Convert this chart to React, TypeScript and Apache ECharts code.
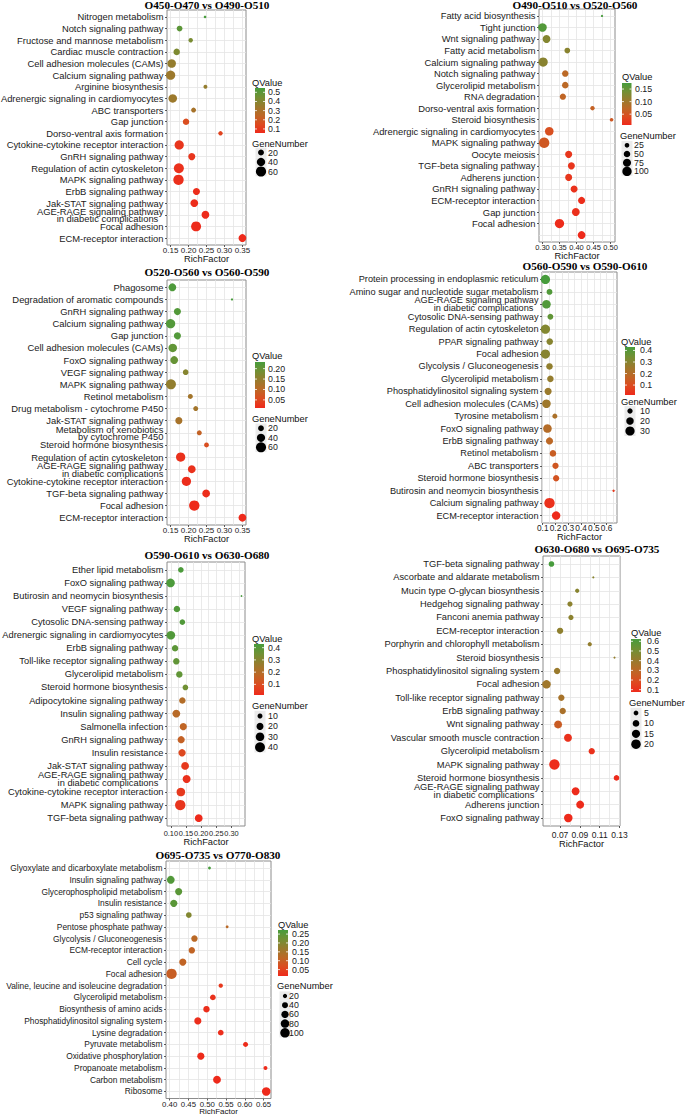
import React, { useEffect, useRef } from "react";
import * as echarts from "echarts";

// ---------------- Panel 1 ----------------
const p1Title = "O450-O470 vs O490-O510";
const p1Categories = [
  "Nitrogen metabolism",
  "Notch signaling pathway",
  "Fructose and mannose metabolism",
  "Cardiac muscle contraction",
  "Cell adhesion molecules (CAMs)",
  "Calcium signaling pathway",
  "Arginine biosynthesis",
  "Adrenergic signaling in cardiomyocytes",
  "ABC transporters",
  "Gap junction",
  "Dorso-ventral axis formation",
  "Cytokine-cytokine receptor interaction",
  "GnRH signaling pathway",
  "Regulation of actin cytoskeleton",
  "MAPK signaling pathway",
  "ErbB signaling pathway",
  "Jak-STAT signaling pathway",
  "AGE-RAGE signaling pathway\nin diabetic complications  ",
  "Focal adhesion",
  "ECM-receptor interaction",
];
const p1RichFactor = [0.246, 0.175, 0.206, 0.167, 0.153, 0.15, 0.247, 0.156, 0.214, 0.193, 0.289, 0.174, 0.209, 0.173, 0.172, 0.222, 0.216, 0.247, 0.221, 0.35];
const p1QValue = [0.547, 0.5, 0.43, 0.42, 0.36, 0.34, 0.36, 0.34, 0.31, 0.16, 0.13, 0.09, 0.09, 0.075, 0.07, 0.065, 0.065, 0.06, 0.06, 0.056];
const p1GeneNumber = [4, 19, 11, 24, 42, 49, 9, 42, 14, 24, 11, 49, 29, 57, 62, 29, 35, 35, 57, 35];
const p1XTickLabels = ["0.15", "0.20", "0.25", "0.30", "0.35"];
const p1QTickLabels = ["0.1", "0.2", "0.3", "0.4", "0.5"];
const p1SizeTicks = [20, 40, 60];

// ---------------- Panel 2 ----------------
const p2Title = "O490-O510 vs O520-O560";
const p2Categories = [
  "Fatty acid biosynthesis",
  "Tight junction",
  "Wnt signaling pathway",
  "Fatty acid metabolism",
  "Calcium signaling pathway",
  "Notch signaling pathway",
  "Glycerolipid metabolism",
  "RNA degradation",
  "Dorso-ventral axis formation",
  "Steroid biosynthesis",
  "Adrenergic signaling in cardiomyocytes",
  "MAPK signaling pathway",
  "Oocyte meiosis",
  "TGF-beta signaling pathway",
  "Adherens junction",
  "GnRH signaling pathway",
  "ECM-receptor interaction",
  "Gap junction",
  "Focal adhesion",
  "AGE-RAGE signaling pathway\nin diabetic complications  ",
];
const p2RichFactor = [0.475, 0.3, 0.312, 0.373, 0.302, 0.367, 0.367, 0.36, 0.447, 0.503, 0.32, 0.305, 0.377, 0.385, 0.377, 0.393, 0.415, 0.398, 0.35, 0.415];
const p2QValue = [0.174, 0.165, 0.125, 0.12, 0.12, 0.075, 0.075, 0.07, 0.065, 0.055, 0.045, 0.055, 0.02, 0.018, 0.02, 0.015, 0.01, 0.013, 0.009, 0.007];
const p2GeneNumber = [6, 85, 71, 38, 99, 48, 48, 46, 22, 15, 85, 125, 59, 57, 57, 57, 59, 71, 100, 71];
const p2XTickLabels = ["0.30", "0.35", "0.40", "0.45", "0.50"];
const p2QTickLabels = ["0.05", "0.10", "0.15"];
const p2SizeTicks = [25, 50, 75, 100];

// ---------------- Panel 3 ----------------
const p3Title = "O520-O560 vs O560-O590";
const p3Categories = [
  "Phagosome",
  "Degradation of aromatic compounds",
  "GnRH signaling pathway",
  "Calcium signaling pathway",
  "Gap junction",
  "Cell adhesion molecules (CAMs)",
  "FoxO signaling pathway",
  "VEGF signaling pathway",
  "MAPK signaling pathway",
  "Retinol metabolism",
  "Drug metabolism - cytochrome P450",
  "Jak-STAT signaling pathway",
  "Metabolism of xenobiotics\nby cytochrome P450",
  "Steroid hormone biosynthesis",
  "Regulation of actin cytoskeleton",
  "AGE-RAGE signaling pathway\nin diabetic complications",
  "Cytokine-cytokine receptor interaction",
  "TGF-beta signaling pathway",
  "Focal adhesion",
  "ECM-receptor interaction",
];
const p3RichFactor = [0.155, 0.321, 0.169, 0.15, 0.169, 0.156, 0.16, 0.192, 0.151, 0.205, 0.22, 0.173, 0.23, 0.25, 0.178, 0.209, 0.194, 0.249, 0.216, 0.35];
const p3QValue = [0.225, 0.232, 0.22, 0.22, 0.22, 0.205, 0.2, 0.165, 0.15, 0.13, 0.13, 0.125, 0.09, 0.06, 0.02, 0.02, 0.015, 0.015, 0.012, 0.011];
const p3GeneNumber = [36, 3, 30, 51, 30, 43, 36, 19, 59, 15, 15, 30, 15, 14, 51, 36, 51, 36, 64, 36];
const p3XTickLabels = ["0.15", "0.20", "0.25", "0.30", "0.35"];
const p3QTickLabels = ["0.05", "0.10", "0.15", "0.20"];
const p3SizeTicks = [20, 40, 60];

// ---------------- Panel 4 ----------------
const p4Title = "O560-O590 vs O590-O610";
const p4Categories = [
  "Protein processing in endoplasmic reticulum",
  "Amino sugar and nucleotide sugar metabolism",
  "AGE-RAGE signaling pathway\nin diabetic complications  ",
  "Cytosolic DNA-sensing pathway",
  "Regulation of actin cytoskeleton",
  "PPAR signaling pathway",
  "Focal adhesion",
  "Glycolysis / Gluconeogenesis",
  "Glycerolipid metabolism",
  "Phosphatidylinositol signaling system",
  "Cell adhesion molecules (CAMs)",
  "Tyrosine metabolism",
  "FoxO signaling pathway",
  "ErbB signaling pathway",
  "Retinol metabolism",
  "ABC transporters",
  "Steroid hormone biosynthesis",
  "Butirosin and neomycin biosynthesis",
  "Calcium signaling pathway",
  "ECM-receptor interaction",
];
const p4RichFactor = [0.121, 0.153, 0.129, 0.16, 0.121, 0.155, 0.121, 0.153, 0.16, 0.142, 0.129, 0.195, 0.137, 0.153, 0.18, 0.2, 0.205, 0.655, 0.153, 0.205];
const p4QValue = [0.43, 0.41, 0.41, 0.38, 0.31, 0.3, 0.3, 0.28, 0.27, 0.26, 0.25, 0.22, 0.2, 0.18, 0.15, 0.13, 0.12, 0.05, 0.03, 0.014];
const p4GeneNumber = [30, 12, 26, 12, 30, 15, 30, 15, 15, 18, 26, 9, 26, 18, 15, 14, 14, 2, 38, 25];
const p4XTickLabels = ["0.1", "0.2", "0.3", "0.4", "0.5", "0.6"];
const p4QTickLabels = ["0.1", "0.2", "0.3", "0.4"];
const p4SizeTicks = [10, 20, 30];

// ---------------- Panel 5 ----------------
const p5Title = "O590-O610 vs O630-O680";
const p5Categories = [
  "Ether lipid metabolism",
  "FoxO signaling pathway",
  "Butirosin and neomycin biosynthesis",
  "VEGF signaling pathway",
  "Cytosolic DNA-sensing pathway",
  "Adrenergic signaling in cardiomyocytes",
  "ErbB signaling pathway",
  "Toll-like receptor signaling pathway",
  "Glycerolipid metabolism",
  "Steroid hormone biosynthesis",
  "Adipocytokine signaling pathway",
  "Insulin signaling pathway",
  "Salmonella infection",
  "GnRH signaling pathway",
  "Insulin resistance",
  "Jak-STAT signaling pathway",
  "AGE-RAGE signaling pathway\nin diabetic complications  ",
  "Cytokine-cytokine receptor interaction",
  "MAPK signaling pathway",
  "TGF-beta signaling pathway",
];
const p5RichFactor = [0.133, 0.099, 0.333, 0.12, 0.138, 0.1, 0.114, 0.118, 0.128, 0.148, 0.138, 0.118, 0.141, 0.134, 0.137, 0.147, 0.152, 0.133, 0.131, 0.192];
const p5QValue = [0.42, 0.42, 0.43, 0.41, 0.41, 0.41, 0.39, 0.38, 0.38, 0.35, 0.2, 0.19, 0.17, 0.16, 0.09, 0.05, 0.03, 0.05, 0.04, 0.013];
const p5GeneNumber = [13, 30, 1, 17, 13, 30, 17, 17, 17, 13, 17, 25, 21, 21, 22, 25, 26, 30, 44, 25];
const p5XTickLabels = ["0.10", "0.15", "0.20", "0.25", "0.30"];
const p5QTickLabels = ["0.1", "0.2", "0.3", "0.4"];
const p5SizeTicks = [10, 20, 30, 40];

// ---------------- Panel 6 ----------------
const p6Title = "O630-O680 vs O695-O735";
const p6Categories = [
  "TGF-beta signaling pathway",
  "Ascorbate and aldarate metabolism",
  "Mucin type O-glycan biosynthesis",
  "Hedgehog signaling pathway",
  "Fanconi anemia pathway",
  "ECM-receptor interaction",
  "Porphyrin and chlorophyll metabolism",
  "Steroid biosynthesis",
  "Phosphatidylinositol signaling system",
  "Focal adhesion",
  "Toll-like receptor signaling pathway",
  "ErbB signaling pathway",
  "Wnt signaling pathway",
  "Vascular smooth muscle contraction",
  "Glycerolipid metabolism",
  "MAPK signaling pathway",
  "Steroid hormone biosynthesis",
  "AGE-RAGE signaling pathway\nin diabetic complications  ",
  "Adherens junction",
  "FoxO signaling pathway",
];
const p6RichFactor = [0.0613, 0.1036, 0.0873, 0.08, 0.081, 0.07, 0.1, 0.125, 0.067, 0.0563, 0.0713, 0.0727, 0.068, 0.078, 0.102, 0.0643, 0.127, 0.0857, 0.0903, 0.0783];
const p6QValue = [0.624, 0.45, 0.45, 0.44, 0.44, 0.43, 0.42, 0.42, 0.4, 0.38, 0.36, 0.35, 0.25, 0.1, 0.1, 0.085, 0.08, 0.08, 0.08, 0.076];
const p6GeneNumber = [7, 1, 4, 6, 6, 9, 4, 1, 9, 16, 9, 9, 14, 14, 9, 24, 7, 14, 14, 16];
const p6XTickLabels = ["0.07", "0.09", "0.11", "0.13"];
const p6QTickLabels = ["0.1", "0.2", "0.3", "0.4", "0.5", "0.6"];
const p6SizeTicks = [5, 10, 15, 20];

// ---------------- Panel 7 ----------------
const p7Title = "O695-O735 vs O770-O830";
const p7Categories = [
  "Glyoxylate and dicarboxylate metabolism",
  "Insulin signaling pathway",
  "Glycerophospholipid metabolism",
  "Insulin resistance",
  "p53 signaling pathway",
  "Pentose phosphate pathway",
  "Glycolysis / Gluconeogenesis",
  "ECM-receptor interaction",
  "Cell cycle",
  "Focal adhesion",
  "Valine, leucine and isoleucine degradation",
  "Glycerolipid metabolism",
  "Biosynthesis of amino acids",
  "Phosphatidylinositol signaling system",
  "Lysine degradation",
  "Pyruvate metabolism",
  "Oxidative phosphorylation",
  "Propanoate metabolism",
  "Carbon metabolism",
  "Ribosome",
];
const p7RichFactor = [0.506, 0.403, 0.424, 0.411, 0.451, 0.553, 0.466, 0.459, 0.435, 0.405, 0.536, 0.515, 0.498, 0.475, 0.536, 0.602, 0.483, 0.655, 0.526, 0.657];
const p7QValue = [0.273, 0.26, 0.25, 0.25, 0.2, 0.12, 0.12, 0.11, 0.11, 0.1, 0.035, 0.025, 0.022, 0.02, 0.02, 0.017, 0.016, 0.015, 0.014, 0.014];
const p7GeneNumber = [9, 68, 57, 57, 36, 9, 46, 46, 57, 120, 21, 36, 46, 57, 36, 28, 57, 17, 68, 81];
const p7XTickLabels = ["0.40", "0.45", "0.50", "0.55", "0.60", "0.65"];
const p7QTickLabels = ["0.05", "0.10", "0.15", "0.20", "0.25"];
const p7SizeTicks = [20, 40, 60, 80, 100];

// ---------------- styling / layout ----------------
const COLORS = ["#ee2a1b", "#dc4c20", "#bc6826", "#987b2d", "#729034", "#479c3c"]; // low -> high QValue
const SANS = '"Liberation Sans", Arial, Helvetica, sans-serif';
const SERIF = '"Liberation Serif", "Times New Roman", serif';
const DMAX = 10.4;

type Layout = {
  grid: [number, number, number, number];
  title: [number, number];
  yFont: number;
  yLine: number;
  xFont: number;
  xMargin: number;
  nameGap: number;
  nameFont: number;
  qTitle: [number, number];
  bar: [number, number, number, number];
  qLabelX: number;
  gTitle: [number, number];
  key: [number, number, number];
  keyLabelX: number;
};

const layouts: Layout[] = [
  { grid: [167, 10, 79, 235], title: [207, 5], yFont: 9.4, yLine: 7.4, xFont: 8, xMargin: 1, nameGap: 9.5, nameFont: 9.3, qTitle: [252, 83], bar: [255, 88, 10, 45], qLabelX: 268, gTitle: [252, 144], key: [261, 152.5, 9.5], keyLabelX: 268 },
  { grid: [539, 9, 76, 233], title: [575, 5], yFont: 9.4, yLine: 7.4, xFont: 7.5, xMargin: 1, nameGap: 9, nameFont: 9.3, qTitle: [622, 77], bar: [622, 83, 9.5, 42], qLabelX: 635, gTitle: [620, 136], key: [627, 145.3, 8.7], keyLabelX: 634 },
  { grid: [167, 280, 79, 245], title: [207, 272], yFont: 9.4, yLine: 7.6, xFont: 8, xMargin: 1, nameGap: 9.5, nameFont: 9.3, qTitle: [252, 356], bar: [255, 362, 10, 46], qLabelX: 268, gTitle: [252, 419], key: [261, 428.3, 9.5], keyLabelX: 268 },
  { grid: [542, 272, 75, 251], title: [585, 266], yFont: 9.2, yLine: 8, xFont: 8.3, xMargin: 1, nameGap: 9.5, nameFont: 9.3, qTitle: [621, 342], bar: [625, 347, 10, 48], qLabelX: 640, gTitle: [621, 402], key: [630, 411, 10], keyLabelX: 640 },
  { grid: [167, 562, 78, 264], title: [207, 555], yFont: 9.3, yLine: 8.2, xFont: 7.4, xMargin: 3.5, nameGap: 11.5, nameFont: 9.3, qTitle: [252, 639], bar: [254, 644, 10, 51], qLabelX: 268, gTitle: [252, 706], key: [260, 716, 10.4], keyLabelX: 268 },
  { grid: [543, 556, 77, 270], title: [597, 549], yFont: 9.3, yLine: 8.2, xFont: 8.5, xMargin: 4, nameGap: 13, nameFont: 9.3, qTitle: [631, 633], bar: [631, 639, 10, 53], qLabelX: 647, gTitle: [629, 703], key: [636, 713, 10.4], keyLabelX: 644 },
  { grid: [166, 861, 105, 237.5], title: [218, 855], yFont: 8.4, yLine: 7.4, xFont: 7.8, xMargin: 1.5, nameGap: 9.4, nameFont: 8, qTitle: [278, 925], bar: [278, 930, 10, 46], qLabelX: 292, gTitle: [277, 986], key: [285, 996, 9.2], keyLabelX: 289 },
];

const panels = [
  { title: p1Title, categories: p1Categories, rich: p1RichFactor, q: p1QValue, genes: p1GeneNumber, xTicks: p1XTickLabels, qTicks: p1QTickLabels, sizeTicks: p1SizeTicks },
  { title: p2Title, categories: p2Categories, rich: p2RichFactor, q: p2QValue, genes: p2GeneNumber, xTicks: p2XTickLabels, qTicks: p2QTickLabels, sizeTicks: p2SizeTicks },
  { title: p3Title, categories: p3Categories, rich: p3RichFactor, q: p3QValue, genes: p3GeneNumber, xTicks: p3XTickLabels, qTicks: p3QTickLabels, sizeTicks: p3SizeTicks },
  { title: p4Title, categories: p4Categories, rich: p4RichFactor, q: p4QValue, genes: p4GeneNumber, xTicks: p4XTickLabels, qTicks: p4QTickLabels, sizeTicks: p4SizeTicks },
  { title: p5Title, categories: p5Categories, rich: p5RichFactor, q: p5QValue, genes: p5GeneNumber, xTicks: p5XTickLabels, qTicks: p5QTickLabels, sizeTicks: p5SizeTicks },
  { title: p6Title, categories: p6Categories, rich: p6RichFactor, q: p6QValue, genes: p6GeneNumber, xTicks: p6XTickLabels, qTicks: p6QTickLabels, sizeTicks: p6SizeTicks },
  { title: p7Title, categories: p7Categories, rich: p7RichFactor, q: p7QValue, genes: p7GeneNumber, xTicks: p7XTickLabels, qTicks: p7QTickLabels, sizeTicks: p7SizeTicks },
];

function gridValues(ticks: number[], min: number, max: number): number[] {
  const step = ticks[1] - ticks[0];
  const out: number[] = [];
  for (let v = ticks[0] - step / 2; v <= ticks[ticks.length - 1] + step / 2 + 1e-9; v += step / 2) {
    if (v >= min - 1e-9 && v <= max + 1e-9) out.push(+v.toFixed(6));
  }
  return out;
}

function buildOption() {
  const grid: any[] = [];
  const xAxis: any[] = [];
  const yAxis: any[] = [];
  const series: any[] = [];
  const visualMap: any[] = [];
  const graphics: any[] = [];

  panels.forEach((p, i) => {
    const L = layouts[i];
    const n = p.categories.length;
    const rMin = Math.min(...p.rich);
    const rMax = Math.max(...p.rich);
    const span = rMax - rMin;
    const xMin = rMin - 0.05 * span;
    const xMax = rMax + 0.05 * span;
    const qMin = Math.min(...p.q);
    const qMax = Math.max(...p.q);
    const gMax = Math.max(...p.genes);
    const sizeOf = (g: number) => DMAX * Math.sqrt(g / gMax);
    const tickNums = p.xTicks.map(Number);
    const idx = p.categories.map((_, k) => k + 1);

    grid.push({
      left: L.grid[0], top: L.grid[1], width: L.grid[2], height: L.grid[3],
      show: true, backgroundColor: "#ffffff", borderColor: "#8c8c8c", borderWidth: 1,
      containLabel: false, outerBoundsMode: "none",
    });

    // axis carrying the major+minor grid lines
    xAxis.push({
      type: "value", gridIndex: i, min: xMin, max: xMax, position: "bottom",
      axisLine: { show: false },
      axisTick: { show: false, customValues: gridValues(tickNums, xMin, xMax) },
      axisLabel: { show: false },
      splitLine: { show: true, lineStyle: { color: "#e4e4e4", width: 0.8 } },
    });
    // axis carrying ticks, labels and the name
    xAxis.push({
      type: "value", gridIndex: i, min: xMin, max: xMax, position: "bottom",
      name: "RichFactor", nameLocation: "middle", nameGap: L.nameGap, nameMoveOverlap: false,
      nameTextStyle: { fontFamily: SANS, fontSize: L.nameFont, color: "#111" },
      axisLine: { show: false },
      axisTick: { show: true, length: 2, customValues: tickNums, lineStyle: { color: "#333", width: 0.8 } },
      axisLabel: {
        show: true, customValues: tickNums, margin: L.xMargin,
        formatter: (v: number) => p.xTicks[tickNums.findIndex((t) => Math.abs(t - v) < 1e-9)] ?? "",
        fontFamily: SANS, fontSize: L.xFont, color: "#1a1a1a",
      },
      splitLine: { show: false },
    });

    yAxis.push({
      type: "value", gridIndex: i, min: 0.4, max: n + 0.6, inverse: true,
      axisLine: { show: false },
      axisTick: { show: true, length: 2, customValues: idx, lineStyle: { color: "#333", width: 0.8 } },
      axisLabel: {
        show: true, customValues: idx, margin: 3.5,
        formatter: (v: number) => p.categories[Math.round(v) - 1] ?? "",
        fontFamily: SANS, fontSize: L.yFont, lineHeight: L.yLine, color: "#1a1a1a",
      },
      splitLine: { show: true, lineStyle: { color: "#e4e4e4", width: 0.8 } },
    });

    series.push({
      type: "scatter",
      name: p.title,
      xAxisIndex: 2 * i,
      yAxisIndex: i,
      data: p.rich.map((r, k) => [r, k + 1, p.q[k], p.genes[k]]),
      symbolSize: (val: number[]) => sizeOf(val[3]),
      itemStyle: { opacity: 1 },
      emphasis: { disabled: true },
      silent: true,
    });

    visualMap.push({
      type: "continuous", show: false, seriesIndex: i, dimension: 2,
      min: qMin, max: qMax, inRange: { color: COLORS },
    });

    // title
    graphics.push({
      type: "text", x: L.title[0], y: L.title[1],
      style: {
        text: p.title, fill: "#000", font: `bold 11.2px ${SERIF}`,
        align: "center", verticalAlign: "middle", textAlign: "center", textVerticalAlign: "middle",
      },
    });

    // QValue colour bar
    graphics.push({
      type: "text", x: L.qTitle[0], y: L.qTitle[1],
      style: { text: "QValue", fill: "#111", font: `9.3px ${SANS}`, align: "left", verticalAlign: "middle", textAlign: "left", textVerticalAlign: "middle" },
    });
    const [bx, by, bw, bh] = L.bar;
    const stops = COLORS.slice().reverse().map((c, k) => ({ offset: k / (COLORS.length - 1), color: c }));
    graphics.push({
      type: "rect", shape: { x: bx, y: by, width: bw, height: bh },
      style: { fill: new echarts.graphic.LinearGradient(0, 0, 0, 1, stops) },
    });
    p.qTicks.forEach((t) => {
      const v = Number(t);
      const ty = by + ((qMax - v) / (qMax - qMin)) * bh;
      graphics.push({ type: "line", shape: { x1: bx, y1: ty, x2: bx + 2, y2: ty }, style: { stroke: "#fff", lineWidth: 0.8 } });
      graphics.push({ type: "line", shape: { x1: bx + bw - 2, y1: ty, x2: bx + bw, y2: ty }, style: { stroke: "#fff", lineWidth: 0.8 } });
      graphics.push({
        type: "text", x: L.qLabelX, y: ty,
        style: { text: t, fill: "#1a1a1a", font: `8.8px ${SANS}`, align: "left", verticalAlign: "middle", textAlign: "left", textVerticalAlign: "middle" },
      });
    });

    // GeneNumber size legend
    graphics.push({
      type: "text", x: L.gTitle[0], y: L.gTitle[1],
      style: { text: "GeneNumber", fill: "#111", font: `9.3px ${SANS}`, align: "left", verticalAlign: "middle", textAlign: "left", textVerticalAlign: "middle" },
    });
    const [kx, ky0, kstep] = L.key;
    p.sizeTicks.forEach((g, k) => {
      const cy = ky0 + k * kstep;
      graphics.push({
        type: "rect", shape: { x: kx - 5.5, y: cy - kstep / 2, width: 11, height: kstep },
        style: { fill: "#ebebeb" },
      });
    });
    p.sizeTicks.forEach((g, k) => {
      const cy = ky0 + k * kstep;
      graphics.push({ type: "circle", shape: { cx: kx, cy, r: sizeOf(g) / 2 }, style: { fill: "#000" } });
      graphics.push({
        type: "text", x: L.keyLabelX, y: cy,
        style: { text: String(g), fill: "#1a1a1a", font: `8.8px ${SANS}`, align: "left", verticalAlign: "middle", textAlign: "left", textVerticalAlign: "middle" },
      });
    });
  });

  return {
    animation: false,
    backgroundColor: "#ffffff",
    grid,
    xAxis,
    yAxis,
    series,
    visualMap,
    graphic: { elements: graphics },
  };
}

export default function App() {
  const ref = useRef<HTMLDivElement>(null);
  useEffect(() => {
    if (!ref.current) return;
    const chart = echarts.init(ref.current, null, { renderer: "svg" });
    chart.setOption(buildOption() as any);
    return () => chart.dispose();
  }, []);
  return (
    <div
      ref={ref}
      style={{ position: "absolute", left: 0, top: 0, width: 685, height: 1116, background: "#fff" }}
    />
  );
}
